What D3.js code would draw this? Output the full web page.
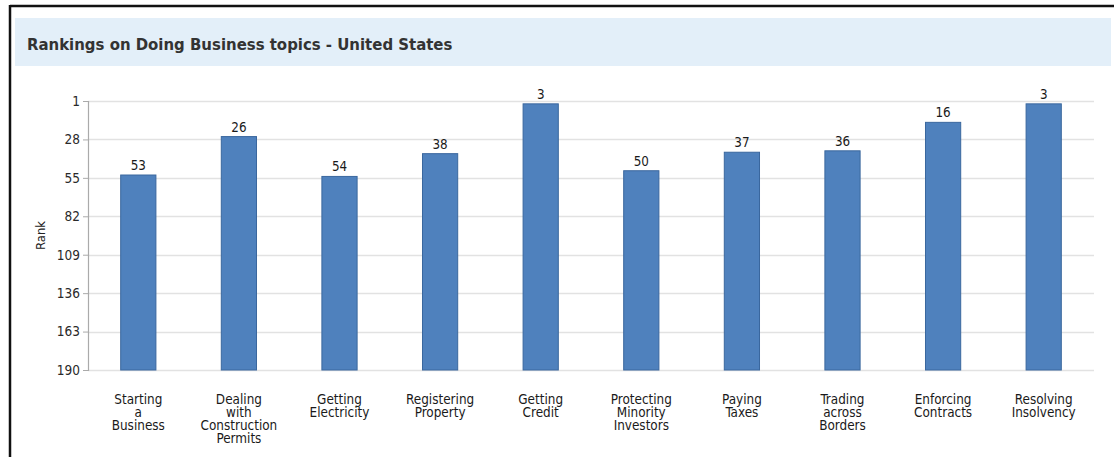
<!DOCTYPE html>
<html>
<head>
<meta charset="utf-8">
<script src="https://cdn.jsdelivr.net/npm/d3@7"></script>
<style>
  html, body { margin: 0; padding: 0; background: #fff; }
  svg { display: block; font-family: "DejaVu Sans Condensed", "DejaVu Sans", sans-serif; font-stretch: condensed; }
</style>
</head>
<body>
<svg id="chart" width="1114" height="457"></svg>
<script>
const title = "Rankings on Doing Business topics - United States";
const categories = [
  "Starting a Business",
  "Dealing with Construction Permits",
  "Getting Electricity",
  "Registering Property",
  "Getting Credit",
  "Protecting Minority Investors",
  "Paying Taxes",
  "Trading across Borders",
  "Enforcing Contracts",
  "Resolving Insolvency"
];
const ranks = [53, 26, 54, 38, 3, 50, 37, 36, 16, 3];
const yTicks = [1, 28, 55, 82, 109, 136, 163, 190];
const yLabel = "Rank";

const svg = d3.select("#chart");
const W = 1114, H = 457;
const plot = { left: 88, right: 1094, top: 101, bottom: 370 };
const FONT = "'DejaVu Sans Condensed', 'DejaVu Sans', sans-serif";

// frame
svg.append("line").attr("x1", 10).attr("x2", W).attr("y1", 6).attr("y2", 6)
  .attr("stroke", "#111").attr("stroke-width", 2.5);
svg.append("line").attr("x1", 10).attr("x2", 10).attr("y1", 5).attr("y2", H)
  .attr("stroke", "#111").attr("stroke-width", 2.5);

// title band
svg.append("rect").attr("x", 15).attr("y", 18).attr("width", 1096).attr("height", 48)
  .attr("fill", "#e3eff9");
svg.append("text").attr("x", 27).attr("y", 50)
  .attr("font-size", 16.6).attr("font-weight", "bold").attr("fill", "#333")
  .text(title);

const x = d3.scaleBand().domain(categories).range([plot.left, plot.right])
  .paddingInner(0.65).paddingOuter(0.325);
const y = d3.scaleLinear().domain([1, 190]).range([plot.top, plot.bottom]);

// gridlines
svg.append("g").selectAll("line").data(yTicks).join("line")
  .attr("x1", plot.left).attr("x2", plot.right)
  .attr("y1", d => Math.round(y(d)) + 0.5).attr("y2", d => Math.round(y(d)) + 0.5)
  .attr("stroke", "#e2e2e2").attr("stroke-width", 1.5);

// y axis
const yAxis = d3.axisLeft(y).tickValues(yTicks).tickSize(5).tickPadding(3);
const gy = svg.append("g").attr("transform", `translate(${plot.left},0)`).call(yAxis);
gy.select(".domain").attr("stroke", "#aaa").attr("stroke-width", 1.2);
gy.selectAll(".tick line").attr("stroke", "#aaa");
gy.selectAll(".tick text").attr("font-size", 13.5).attr("fill", "#2a2a2a")
  .attr("font-family", FONT);

svg.append("text")
  .attr("transform", `translate(45,${(plot.top + plot.bottom) / 2}) rotate(-90)`)
  .attr("text-anchor", "middle").attr("font-size", 13).attr("fill", "#222")
  .text(yLabel);

// bars
svg.append("g").selectAll("rect").data(ranks).join("rect")
  .attr("x", (d, i) => x(categories[i]))
  .attr("width", x.bandwidth())
  .attr("y", d => y(d))
  .attr("height", d => y(190) - y(d))
  .attr("fill", "#4f81bd")
  .attr("stroke", "#3a679e").attr("stroke-width", 1);

// value labels
svg.append("g").selectAll("text").data(ranks).join("text")
  .attr("x", (d, i) => x(categories[i]) + x.bandwidth() / 2)
  .attr("y", d => y(d) - 5)
  .attr("text-anchor", "middle").attr("font-size", 13.3).attr("fill", "#1a1a1a")
  .text(d => d);

// category labels
const cl = svg.append("g").selectAll("text").data(categories).join("text")
  .attr("x", d => x(d) + x.bandwidth() / 2)
  .attr("y", 404)
  .attr("text-anchor", "middle").attr("font-size", 13.4).attr("fill", "#1a1a1a");
cl.each(function(d) {
  const words = d.split(" ");
  const t = d3.select(this);
  const cx = x(d) + x.bandwidth() / 2;
  words.forEach((w, i) => {
    t.append("tspan").attr("x", cx).attr("dy", i === 0 ? 0 : 13).text(w);
  });
});
</script>
</body>
</html>
